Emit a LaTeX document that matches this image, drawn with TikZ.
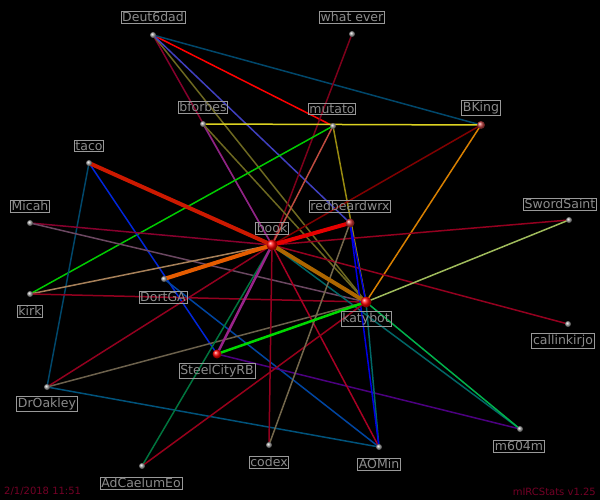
\documentclass[tikz,border=0pt]{standalone}
\usepackage{fontspec}
\setmainfont{DejaVu Sans}
\begin{document}
\begin{tikzpicture}[x=1pt,y=-1pt,
  lbl/.style={draw=gray!80,line width=0.8pt,text=gray!90,font=\fontsize{12.5}{13}\selectfont,inner sep=1.2pt},
  dot/.style={circle,inner sep=0pt,minimum size=6pt,ball color=gray!70},
  rdot/.style={circle,inner sep=0pt,minimum size=11pt,ball color=red},
  e/.style={line width=1.5pt}]
\fill[black] (0,0) rectangle (600,500);
\useasboundingbox (0,0) rectangle (600,500);
\coordinate (D) at (153,35); \coordinate (W) at (352,34); \coordinate (BF) at (203,124);
\coordinate (MU) at (333,126); \coordinate (BK) at (481,125); \coordinate (T) at (89,163);
\coordinate (MI) at (30,223); \coordinate (R) at (350,223); \coordinate (S) at (569,220);
\coordinate (B) at (272,245); \coordinate (DG) at (164,279); \coordinate (K) at (30,294);
\coordinate (KB) at (366,302); \coordinate (C) at (568,324); \coordinate (SC) at (217,354);
\coordinate (DO) at (47,387); \coordinate (CO) at (269,445); \coordinate (A) at (379,447);
\coordinate (M) at (520,429); \coordinate (AC) at (142,466);
% edges
\draw[e,red] (D)--(MU);
\draw[e,green!40!blue!70!black] (D)--(BK);
\draw[e,purple!70!black] (D)--(B);
\draw[e,olive!70!black] (D)--(KB);
\draw[e,blue!50!gray] (D)--(R);
\draw[e,purple!70!red!60!black] (W)--(B);
\draw[e,magenta!50!blue!90!black] (BF)--(B);
\draw[e,olive!70!black] (BF)--(KB);
\draw[e,yellow!85!black] (BF)--(BK);
\draw[e,green!80!black] (MU)--(K);
\draw[e,brown!60!purple] (MU)--(B);
\draw[e,olive!80!brown] (MU)--(KB);
\draw[e,red!50!black] (BK)--(B);
\draw[e,orange!70!olive] (BK)--(KB);
\draw[e,blue!60!green!70!black] (T)--(DO);
\draw[e,blue!70!teal] (T)--(SC);
\draw[e,purple!70!black] (MI)--(B);
\draw[e,brown!70!blue!80!black] (MI)--(KB);
\draw[e,brown!60!gray] (K)--(B);
\draw[e,purple!70!red!70!black] (K)--(KB);
\draw[e,blue!70!green!90!black] (DG)--(A);
\draw[e,purple!70!red!70!black] (DO)--(B);
\draw[e,olive!60!blue!80!black] (DO)--(KB);
\draw[e,green!40!blue!80!black] (DO)--(A);
\draw[e,blue!50!purple!80!black] (SC)--(M);
\draw[e,purple!70!red!70!black] (B)--(S);
\draw[e,purple!70!red!70!black] (B)--(C);
\draw[e,purple!70!red!70!black] (B)--(CO);
\draw[e,purple!70!red!80!black] (B)--(A);
\draw[e,blue!50!green!80!black] (B)--(M);
\draw[e,blue!80!black] (B)--(KB);
\draw[e,teal!60!green] (KB)--(M);
\draw[e,yellow!60!green!60!gray] (KB)--(S);
\draw[e,green!50!blue!80!black] (KB)--(A);
\draw[e,blue!90!black] (R)--(A);
\draw[e,blue!90!black] (R)--(KB);
\draw[e,teal!70!green!70!black] (AC)--(B);
\draw[e,red!40!purple!70!black] (AC)--(KB);
\draw[e,olive!60!blue] (CO)--(R);
\draw[line width=4pt,red!75!orange!80!black] (T)--(B);
\draw[line width=4pt,orange!70!olive!80!black] (B)--(KB);
\draw[line width=4pt,red!90!black] (B)--(R);
\draw[line width=4pt,orange!80!red!90!black] (DG)--(B);
\draw[line width=2.5pt,green!85!black] (SC)--(KB);
\draw[line width=2.5pt,magenta!60!blue!90!black] (SC)--(B);
% dots
\foreach \n in {D,W,BF,MU,T,MI,S,DG,K,C,DO,CO,A,M,AC} \node[dot] (d\n) at (\n) {};
\node[dot,minimum size=8pt,ball color=red!50!gray] (dBK) at (BK) {};
\node[dot,minimum size=9pt,ball color=red!60!gray] (dR) at (R) {};
\node[rdot] (dB) at (B) {};
\node[rdot] (dKB) at (KB) {};
\node[rdot,minimum size=9pt] (dSC) at (SC) {};
% labels
\node[lbl] (lD) at (153,17) {Deut6dad};
\node[lbl] (lW) at (352,17) {what ever};
\node[lbl] (lBF) at (203,107) {bforbes};
\node[lbl] (lMU) at (332,109) {mutato};
\node[lbl] (lBK) at (481,108) {BKing};
\node[lbl] (lT) at (89,146) {taco};
\node[lbl] (lMI) at (30,206) {Micah};
\node[lbl] (lR) at (350,206) {redbeardwrx};
\node[lbl] (lS) at (560,204) {SwordSaint};
\node[lbl] (lB) at (272,228) {book};
\node[lbl] (lDG) at (163,297) {DortGA};
\node[lbl] (lK) at (30,311) {kirk};
\node[lbl] (lKB) at (366,319) {katybot};
\node[lbl] (lC) at (563,341) {callinkirjo};
\node[lbl] (lSC) at (217,371) {SteelCityRB};
\node[lbl] (lDO) at (47,404) {DrOakley};
\node[lbl] (lCO) at (269,462) {codex};
\node[lbl] (lA) at (379,464) {AOMin};
\node[lbl] (lM) at (519,446) {m604m};
\node[lbl] (lAC) at (141,483) {AdCaelumEo};
\node[anchor=south west,text=purple!60!black,font=\fontsize{10}{11}\selectfont,inner sep=2pt] (ts) at (2,498) {2/1/2018 11:51};
\node[anchor=south east,text=purple!60!black,font=\fontsize{10}{11}\selectfont,inner sep=2pt] (ver) at (598,498) {mIRCStats v1.25};
\end{tikzpicture}
\end{document}
